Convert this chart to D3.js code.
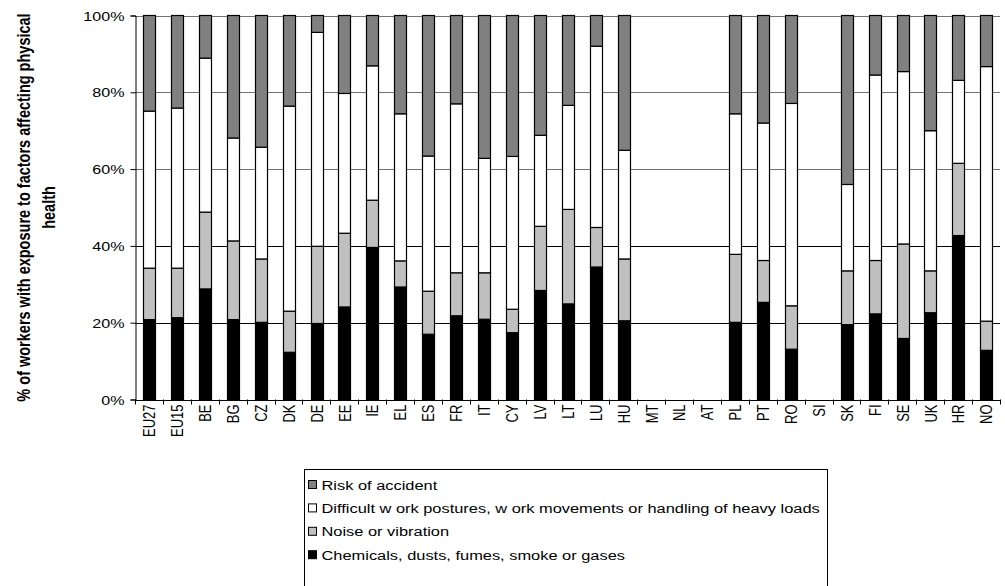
<!DOCTYPE html>
<html>
<head>
<meta charset="utf-8">
<script src="https://cdn.jsdelivr.net/npm/d3@7"></script>
<style>
  html, body { margin: 0; padding: 0; background: #fff; }
  svg { display: block; font-family: "Liberation Sans", Arial, sans-serif; }
</style>
</head>
<body>
<svg id="chart" width="1005" height="586"></svg>
<script>
// Countries along the x axis
const categories = ["EU27","EU15","BE","BG","CZ","DK","DE","EE","IE","EL","ES","FR","IT","CY","LV","LT","LU","HU","MT","NL","AT","PL","PT","RO","SI","SK","FI","SE","UK","HR","NO"];

// Share of each factor (%), null where no data
const chemicals = [20.8,21.3,28.8,20.8,20.1,12.3,19.8,24.1,39.6,29.3,17.0,21.8,20.9,17.4,28.4,24.9,34.5,20.5,null,null,null,20.1,25.3,13.1,null,19.5,22.3,15.9,22.6,42.7,12.8];
const noise     = [13.4,12.9,20.0,20.5,16.5,10.7,20.1,19.2,12.3,6.8,11.2,11.2,12.1,6.1,16.7,24.6,10.3,16.1,null,null,null,17.7,10.9,11.3,null,14.0,13.9,24.6,10.9,18.8,7.6];
const postures  = [40.9,41.7,40.1,26.8,29.1,53.4,55.7,36.4,35.0,38.3,35.2,44.0,29.8,39.8,23.7,27.1,47.2,28.3,null,null,null,36.6,35.8,52.7,null,22.5,48.3,44.9,36.5,21.6,66.3];
const risk      = [24.9,24.1,11.1,31.9,34.3,23.6,4.4,20.3,13.1,25.6,36.6,23.0,37.2,36.7,31.2,23.4,8.0,35.1,null,null,null,25.6,28.0,22.9,null,44.0,15.5,14.6,30.0,16.9,13.3];

// Legend entries, top to bottom
const seriesNames = ["Risk of accident","Difficult w ork postures, w ork movements or handling of heavy loads","Noise or vibration","Chemicals, dusts, fumes, smoke or gases"];
const yTicks = [0, 20, 40, 60, 80, 100];

const seriesKeys = ["chemicals","noise","postures","risk"];
const colors = { chemicals: "#000000", noise: "#c0c0c0", postures: "#ffffff", risk: "#808080" };
const legendKeys = ["risk","postures","noise","chemicals"];

// Text in this chart is drawn slightly widened horizontally
const stretch = 1.24;

const rows = categories.map((c, i) => ({
  country: c,
  chemicals: chemicals[i], noise: noise[i], postures: postures[i], risk: risk[i],
  missing: chemicals[i] === null
}));

const svg = d3.select("#chart");
const plotLeft = 135, plotRight = 1000, plotTop = 15.5, plotBottom = 399.5;

const x = d3.scaleBand().domain(categories).range([plotLeft, plotRight])
  .paddingInner(0.585).paddingOuter(0.2925);
const y = d3.scaleLinear().domain([0, 100]).range([plotBottom, plotTop]);

// Horizontal gridlines
svg.append("g").selectAll("line")
  .data(yTicks.filter(t => t > 0))
  .join("line")
  .attr("x1", plotLeft).attr("x2", plotRight)
  .attr("y1", d => Math.round(y(d)) + 0.5).attr("y2", d => Math.round(y(d)) + 0.5)
  .attr("stroke", "#000").attr("stroke-width", 1)
  .attr("stroke-opacity", d => d >= 60 ? 0.55 : 1);

// Stacked bars
const stack = d3.stack().keys(seriesKeys).value((d, k) => d[k] || 0);
const layers = stack(rows);
svg.append("g").selectAll("g")
  .data(layers)
  .join("g")
  .attr("fill", d => colors[d.key])
  .selectAll("rect")
  .data(d => d.filter(s => !s.data.missing))
  .join("rect")
  .attr("x", d => Math.round(x(d.data.country)) + 0.5)
  .attr("width", Math.round(x.bandwidth()))
  .attr("y", d => y(d[1]))
  .attr("height", d => y(d[0]) - y(d[1]))
  .attr("stroke", "#000").attr("stroke-width", 1.2);

// Y axis
const yAxis = d3.axisLeft(y).tickValues(yTicks).tickSize(5).tickFormat(d => d + "%");
const yg = svg.append("g")
  .attr("transform", `translate(${plotLeft + 0.5},0)`)
  .call(yAxis)
  .call(g => g.select(".domain").attr("stroke", "#000"));
yg.selectAll(".tick text")
  .attr("x", null).attr("dy", null)
  .attr("transform", `translate(-11,4.6) scale(${stretch},1)`)
  .attr("font-size", 13).attr("fill", "#000")
  .attr("font-family", "Liberation Sans, Arial, sans-serif");

// X axis: line plus ticks on band boundaries
const xg = svg.append("g");
xg.append("line").attr("x1", plotLeft).attr("x2", plotRight)
  .attr("y1", Math.round(plotBottom) + 0.5).attr("y2", Math.round(plotBottom) + 0.5)
  .attr("stroke", "#000");
const boundaries = categories.map(c => x(c) - x.step() * x.paddingInner() / 2).concat([plotRight]);
xg.selectAll("line.tick").data(boundaries).join("line").attr("class", "tick")
  .attr("x1", d => Math.round(d) + 0.5).attr("x2", d => Math.round(d) + 0.5)
  .attr("y1", plotBottom).attr("y2", plotBottom + 5).attr("stroke", "#000");
xg.selectAll("text").data(categories).join("text")
  .attr("transform", d => `translate(${x(d) + x.bandwidth() / 2 + 0.5},${plotBottom + 5}) rotate(-90) scale(1,${stretch})`)
  .attr("text-anchor", "end")
  .attr("dy", "0.36em")
  .attr("font-size", 13)
  .text(d => d);

// Y axis title
const title = svg.append("text")
  .attr("transform", `translate(0,${(plotTop + plotBottom) / 2}) rotate(-90) scale(1,${stretch})`)
  .attr("text-anchor", "middle")
  .attr("font-size", 14.5).attr("font-weight", "bold");
title.append("tspan").attr("x", 0).attr("y", 24.5).text("% of workers with exposure to factors affecting physical");
title.append("tspan").attr("x", 0).attr("y", 44).text("health");

// Legend
const lg = svg.append("g").attr("transform", "translate(304.5,469.5)");
lg.append("rect").attr("width", 523).attr("height", 125)
  .attr("fill", "#fff").attr("stroke", "#000").attr("stroke-width", 1);
const items = lg.selectAll("g.item").data(legendKeys).join("g").attr("class", "item")
  .attr("transform", (d, i) => `translate(0,${15 + i * 23.4})`);
items.append("rect").attr("x", 4).attr("y", -4).attr("width", 8).attr("height", 8)
  .attr("fill", d => colors[d]).attr("stroke", "#000");
items.append("text")
  .attr("transform", `translate(17,5) scale(${stretch * 0.98},1)`)
  .attr("font-size", 13.5)
  .text((d, i) => seriesNames[i]);
</script>
</body>
</html>
